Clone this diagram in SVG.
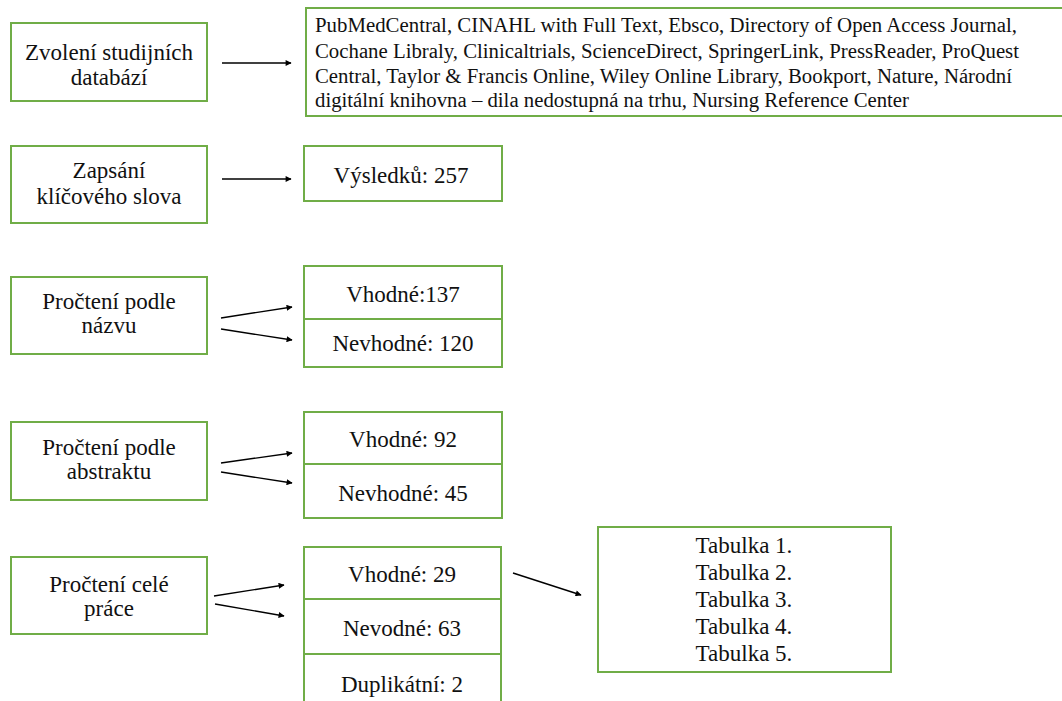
<svg xmlns="http://www.w3.org/2000/svg" width="1062" height="701" viewBox="0 0 1062 701">
<defs>
<marker id="ah" viewBox="0 0 10 10" refX="9" refY="5" markerWidth="7" markerHeight="6" orient="auto" markerUnits="userSpaceOnUse"><path d="M0,0 L10,5 L0,10 z" fill="#000"/></marker>
</defs>
<style>
.box{fill:#fff;stroke:#70AD47;stroke-width:2}
.t{font-size:23px;fill:#111;text-anchor:middle}
.s{font-size:20px;fill:#111}
.c{stroke:#000;stroke-width:1.4;fill:none;marker-end:url(#ah)}
</style>
<rect width="1062" height="701" fill="#fff"/>
<g font-family="Liberation Serif, Tinos, Times New Roman, DejaVu Serif, serif">
<g id="n1"><rect class="box" x="11" y="23" width="196" height="78"/><text class="t" x="109" y="60">Zvolení studijních</text><text class="t" x="109" y="85">databází</text></g>
<g id="n2"><rect class="box" x="306" y="8" width="770" height="108"/>
<text class="s" x="315" y="32" textLength="702" lengthAdjust="spacingAndGlyphs">PubMedCentral, CINAHL with Full Text, Ebsco, Directory of Open Access Journal,</text>
<text class="s" x="315" y="58" textLength="704" lengthAdjust="spacingAndGlyphs">Cochane Libraly, Clinicaltrials, ScienceDirect, SpringerLink, PressReader, ProQuest</text>
<text class="s" x="315" y="83" textLength="697" lengthAdjust="spacingAndGlyphs">Central, Taylor &amp; Francis Online, Wiley Online Library, Bookport, Nature, Národní</text>
<text class="s" x="315" y="107" textLength="594" lengthAdjust="spacingAndGlyphs">digitální knihovna – dila nedostupná na trhu, Nursing Reference Center</text></g>
<g id="n3"><rect class="box" x="11" y="146" width="196" height="77"/><text class="t" x="109" y="178">Zapsání</text><text class="t" x="109" y="204">klíčového slova</text></g>
<g id="n4"><rect class="box" x="304" y="146" width="198" height="55"/><text class="t" x="401" y="183">Výsledků: 257</text></g>
<g id="n5"><rect class="box" x="11" y="277" width="196" height="77"/><text class="t" x="109" y="309">Pročtení podle</text><text class="t" x="109" y="333">názvu</text></g>
<g id="n6"><rect class="box" x="304" y="266" width="198" height="53"/><text class="t" x="403" y="302">Vhodné:137</text></g>
<g id="n7"><rect class="box" x="304" y="319" width="198" height="48"/><text class="t" x="403" y="351">Nevhodné: 120</text></g>
<g id="n8"><rect class="box" x="11" y="422" width="196" height="78"/><text class="t" x="109" y="455">Pročtení podle</text><text class="t" x="109" y="479">abstraktu</text></g>
<g id="n9"><rect class="box" x="304" y="412" width="198" height="52"/><text class="t" x="403" y="447">Vhodné: 92</text></g>
<g id="n10"><rect class="box" x="304" y="464" width="198" height="54"/><text class="t" x="403" y="501">Nevhodné: 45</text></g>
<g id="n11"><rect class="box" x="11" y="557" width="196" height="77"/><text class="t" x="109" y="592">Pročtení celé</text><text class="t" x="109" y="616">práce</text></g>
<g id="n12"><rect class="box" x="304" y="547" width="197" height="52"/><text class="t" x="402" y="582">Vhodné: 29</text></g>
<g id="n13"><rect class="box" x="304" y="599" width="197" height="55"/><text class="t" x="402" y="636">Nevodné: 63</text></g>
<g id="n14"><rect class="box" x="304" y="654" width="197" height="60"/><text class="t" x="402" y="692">Duplikátní: 2</text></g>
<g id="n15"><rect class="box" x="598" y="527" width="293" height="145"/>
<text class="t" x="744" y="553">Tabulka 1.</text><text class="t" x="744" y="580">Tabulka 2.</text><text class="t" x="744" y="607">Tabulka 3.</text><text class="t" x="744" y="634">Tabulka 4.</text><text class="t" x="744" y="661">Tabulka 5.</text></g>
</g>
<g id="connectors">
<line class="c" x1="222" y1="63" x2="291" y2="63"/>
<line class="c" x1="222" y1="179" x2="291" y2="179"/>
<line class="c" x1="221" y1="318" x2="292" y2="307"/>
<line class="c" x1="221" y1="329" x2="292" y2="340"/>
<line class="c" x1="221" y1="463" x2="292" y2="453"/>
<line class="c" x1="221" y1="472" x2="292" y2="483"/>
<line class="c" x1="214" y1="596" x2="284" y2="585"/>
<line class="c" x1="215" y1="604" x2="284" y2="616"/>
<line class="c" x1="513" y1="573" x2="581" y2="595"/>
</g>
</svg>
